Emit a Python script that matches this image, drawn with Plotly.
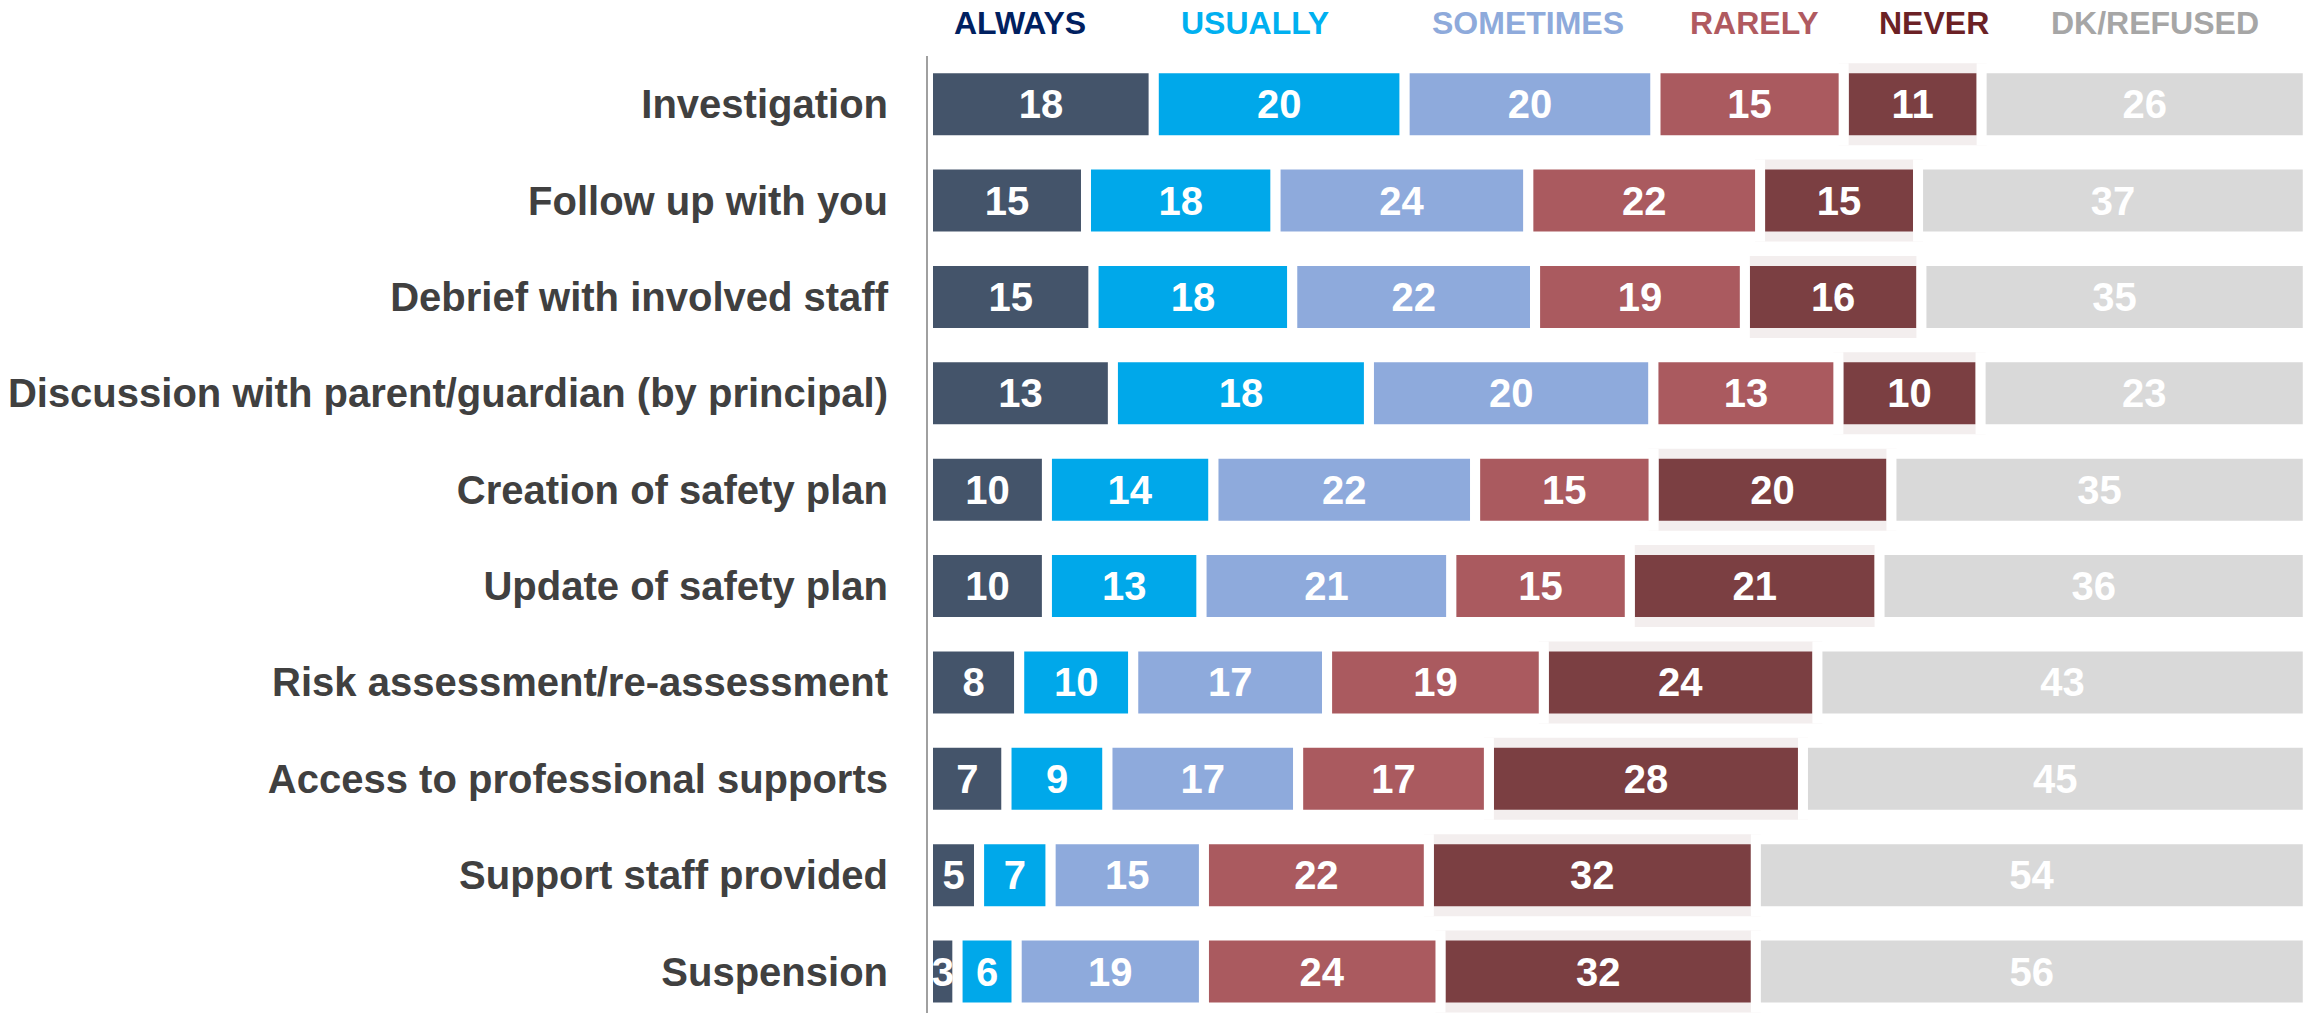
import plotly.graph_objects as go

# Data ==========================================================================
categories = [
    "Investigation",
    "Follow up with you",
    "Debrief with involved staff",
    "Discussion with parent/guardian (by principal)",
    "Creation of safety plan",
    "Update of safety plan",
    "Risk assessment/re-assessment",
    "Access to professional supports",
    "Support staff provided",
    "Suspension",
]
always    = [18, 15, 15, 13, 10, 10, 8, 7, 5, 3]
usually   = [20, 18, 18, 18, 14, 13, 10, 9, 7, 6]
sometimes = [20, 24, 22, 20, 22, 21, 17, 17, 15, 19]
rarely    = [15, 22, 19, 13, 15, 15, 19, 17, 22, 24]
never     = [11, 15, 16, 10, 20, 21, 24, 28, 32, 32]
dk        = [26, 37, 35, 23, 35, 36, 43, 45, 54, 56]

series_names = ["ALWAYS", "USUALLY", "SOMETIMES", "RARELY", "NEVER", "DK/REFUSED"]
series_values = [always, usually, sometimes, rarely, never, dk]

# Style =========================================================================
bar_colors   = ["#44546a", "#00a8ea", "#8eaadc", "#aa5a5f", "#7b3f42", "#d9d9d9"]
head_colors  = ["#002060", "#00b0f0", "#8eaadb", "#b05a60", "#6b2125", "#a6a6a6"]
head_x       = [6.67, 23.7, 43.5, 59.9, 72.9, 88.9]
FONT = "Liberation Sans, Arial, sans-serif"

# each row is scaled to its own total (100 %)
totals = [sum(v) for v in zip(*series_values)]
shares, bases = [], []
running = [0.0] * len(categories)
for vals in series_values:
    share = [100.0 * v / t for v, t in zip(vals, totals)]
    shares.append(share)
    bases.append(list(running))
    running = [r + s for r, s in zip(running, share)]

fig = go.Figure(layout = {
    "paper_bgcolor" : "white",
    "plot_bgcolor"  : "white"
})

# draw NEVER first so its light outline sits under the neighbours' white edges
order = [4, 0, 1, 2, 3, 5]
for i in order:
    fig.add_trace(go.Bar(
        y = categories,
        x = shares[i],
        base = bases[i],
        orientation = "h",
        name = series_names[i],
        text = [str(v) for v in series_values[i]],
        textposition = "inside",
        insidetextanchor = "middle",
        textangle = 0,
        textfont = dict(family = FONT, size = 40, color = "white", weight = "bold"),
        marker = dict(
            color = bar_colors[i],
            line = dict(color = "#f3eeee" if i == 4 else "white", width = 10)
        ),
        showlegend = False,
        hoverinfo = "skip",
    ))

# Header labels - - - - - - - - - - - - - - - - - - - - - - - - - - - - - - - - -
for name, col, hx in zip(series_names, head_colors, head_x):
    fig.add_annotation(
        x = hx, xref = "x",
        y = 1 + (56 - 23) / 957, yref = "paper",
        text = name, showarrow = False,
        xanchor = "center", yanchor = "middle",
        font = dict(family = FONT, size = 32, color = col, weight = "bold"),
    )

fig.update_layout(
    width = 2305, height = 1013,
    autosize = False,
    barmode = "overlay",
    bargap = 0.253,
    margin = dict(l = 928, r = 0, t = 56, b = 0),
    uniformtext = dict(minsize = 40, mode = "show"),
    hovermode = False,
    xaxis = dict(
        range = [0, 99.8],
        showgrid = False, zeroline = False,
        showticklabels = False, showline = False,
    ),
    yaxis = dict(
        type = "category",
        categoryorder = "array", categoryarray = categories,
        range = [9.43, -0.5],
        showgrid = False, zeroline = False,
        showline = True, linecolor = "#a0a0a0", linewidth = 2,
        ticks = "", ticklabelstandoff = 30,
        tickfont = dict(family = FONT, size = 40, color = "#404040", weight = "bold"),
    ),
)

# NOTE drop the browser's default 8px body margin so the figure fills the window
fig.write_html("out.html",
               config = {"displayModeBar": False},
               post_script = "document.body.style.margin = '0';")
